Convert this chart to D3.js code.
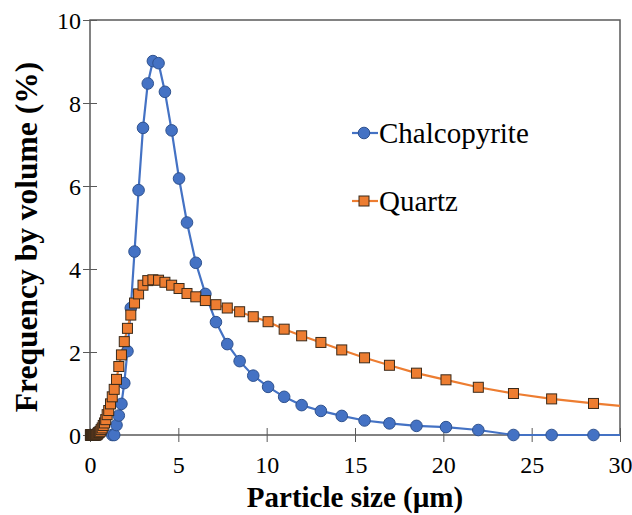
<!DOCTYPE html>
<html><head><meta charset="utf-8">
<script src="https://cdn.jsdelivr.net/npm/d3@7"></script>
<style>body{margin:0;background:#fff}svg{display:block}</style>
</head><body>
<svg id="c" width="632" height="515"></svg>
<script>
const chalcoX = [1.26,1.37,1.50,1.63,1.78,1.94,2.12,2.31,2.52,2.75,3.00,3.27,3.56,3.88,4.24,4.62,5.04,5.49,5.99,6.53,7.13,7.77,8.47,9.24,10.08,10.99,11.98,13.07,14.25,15.54,16.95,18.48,20.15,21.98,23.97,26.13,28.50,31.08];
const chalcoY = [0,0,0.24,0.47,0.75,1.25,2.02,3.06,4.42,5.90,7.40,8.47,9.01,8.96,8.27,7.34,6.18,5.12,4.15,3.40,2.72,2.19,1.78,1.43,1.16,0.92,0.72,0.58,0.46,0.35,0.28,0.22,0.19,0.12,0,0,0,0];
const quartzX = [0.02,0.03,0.04,0.05,0.06,0.07,0.08,0.09,0.10,0.11,0.12,0.13,0.14,0.16,0.17,0.19,0.20,0.22,0.24,0.27,0.29,0.32,0.34,0.38,0.41,0.45,0.49,0.53,0.58,0.63,0.69,0.75,0.82,0.89,0.97,1.06,1.16,1.26,1.37,1.50,1.63,1.78,1.94,2.12,2.31,2.52,2.75,3.00,3.27,3.56,3.88,4.24,4.62,5.04,5.49,5.99,6.53,7.13,7.77,8.47,9.24,10.08,10.99,11.98,13.07,14.25,15.54,16.95,18.48,20.15,21.98,23.97,26.13,28.50,31.08];
const quartzY = [0,0,0,0,0,0,0,0,0,0,0,0,0,0,0,0,0,0,0,0,0,0,0,0.01,0.02,0.04,0.06,0.07,0.09,0.13,0.17,0.23,0.29,0.37,0.49,0.59,0.75,0.92,1.10,1.34,1.65,1.93,2.25,2.57,2.89,3.18,3.40,3.61,3.72,3.74,3.73,3.68,3.61,3.53,3.41,3.33,3.24,3.14,3.06,2.97,2.85,2.73,2.55,2.39,2.23,2.05,1.86,1.68,1.49,1.33,1.15,1.00,0.87,0.76,0.66];
const xTicks = [0,5,10,15,20,25,30];
const yTicks = [0,2,4,6,8,10];
const seriesNames = ["Chalcopyrite","Quartz"];

const svg = d3.select("#c");
const L = 90, R = 620, T = 20, B = 435;
const x = d3.scaleLinear().domain([0,30]).range([L,R]);
const y = d3.scaleLinear().domain([0,10]).range([B,T]);
const frame = "#595959";
const blue = "#4472C4", blueEdge = "#2F528F";
const orange = "#ED7D31", orangeEdge = "#3a2a1a";
const serif = "'Liberation Serif','Times New Roman',serif";

const xa = svg.append("g").attr("transform",`translate(0,${B})`)
  .call(d3.axisBottom(x).tickValues(xTicks).tickSize(7));
xa.selectAll(".tick line").attr("y1",-7).attr("y2",7).attr("stroke",frame);
const ya = svg.append("g").attr("transform",`translate(${L},0)`)
  .call(d3.axisLeft(y).tickValues(yTicks).tickSize(7));
ya.selectAll(".tick line").attr("x1",-7).attr("x2",7).attr("stroke",frame);
[xa,ya].forEach(a=>{
  a.select(".domain").remove();
  a.selectAll("text").attr("font-family",serif).attr("font-size",24).attr("fill","#000");
});
xa.selectAll("text").attr("dy","0.71em").attr("y",21);
ya.selectAll("text").attr("x",-9).attr("dy","0.34em");
svg.append("rect").attr("x",L).attr("y",T).attr("width",R-L).attr("height",B-T)
  .attr("fill","none").attr("stroke",frame).attr("stroke-width",1.5);

svg.append("clipPath").attr("id","pc").append("rect")
  .attr("x",L).attr("y",T-10).attr("width",R-L).attr("height",B-T+20);
const plot = svg.append("g").attr("clip-path","url(#pc)");
svg.append("clipPath").attr("id","lc").append("rect")
  .attr("x",L-20).attr("y",T-10).attr("width",R-L+20).attr("height",B-T+20);
const plot2 = svg.append("g").attr("clip-path","url(#lc)");

const cData = chalcoX.map((v,i)=>[v,chalcoY[i]]);
const qData = quartzX.map((v,i)=>[v,quartzY[i]]);
const line = d3.line().x(d=>x(d[0])).y(d=>y(d[1]));

plot.append("path").datum(cData).attr("d",line).attr("fill","none").attr("stroke",blue).attr("stroke-width",2.2);
plot2.selectAll("circle.c").data(cData.filter(d=>d[0]<=30)).join("circle")
  .attr("cx",d=>x(d[0])).attr("cy",d=>y(d[1])).attr("r",5.8)
  .attr("fill",blue).attr("stroke",blueEdge).attr("stroke-width",1);
plot.append("path").datum(qData).attr("d",line).attr("fill","none").attr("stroke",orange).attr("stroke-width",2.2);
const s = 10;
plot2.selectAll("rect.q").data(qData.filter(d=>d[0]<=30)).join("rect")
  .attr("x",d=>x(d[0])-s/2).attr("y",d=>y(d[1])-s/2).attr("width",s).attr("height",s)
  .attr("fill",orange).attr("stroke",orangeEdge).attr("stroke-width",1);

const lg = svg.append("g");
const items = [{n:seriesNames[0],c:blue,e:blueEdge,t:"circle",y:133},{n:seriesNames[1],c:orange,e:orangeEdge,t:"rect",y:201}];
items.forEach(it=>{
  lg.append("line").attr("x1",352).attr("x2",378).attr("y1",it.y).attr("y2",it.y).attr("stroke",it.c).attr("stroke-width",2.2);
  if(it.t==="circle") lg.append("circle").attr("cx",364).attr("cy",it.y).attr("r",5.8).attr("fill",it.c).attr("stroke",it.e);
  else lg.append("rect").attr("x",359).attr("y",it.y-5).attr("width",10).attr("height",10).attr("fill",it.c).attr("stroke",it.e);
  lg.append("text").attr("x",379).attr("y",it.y).attr("dy","0.35em").attr("font-family",serif).attr("font-size",29).attr("fill","#000").text(it.n);
});

svg.append("text").attr("x",(L+R)/2).attr("y",507).attr("text-anchor","middle")
  .attr("font-family",serif).attr("font-weight","bold").attr("font-size",29).text("Particle size (µm)");
svg.append("text").attr("transform",`translate(37,237) rotate(-90)`).attr("text-anchor","middle")
  .attr("font-family",serif).attr("font-weight","bold").attr("font-size",31.5).text("Frequency by volume (%)");
</script>
</body></html>
